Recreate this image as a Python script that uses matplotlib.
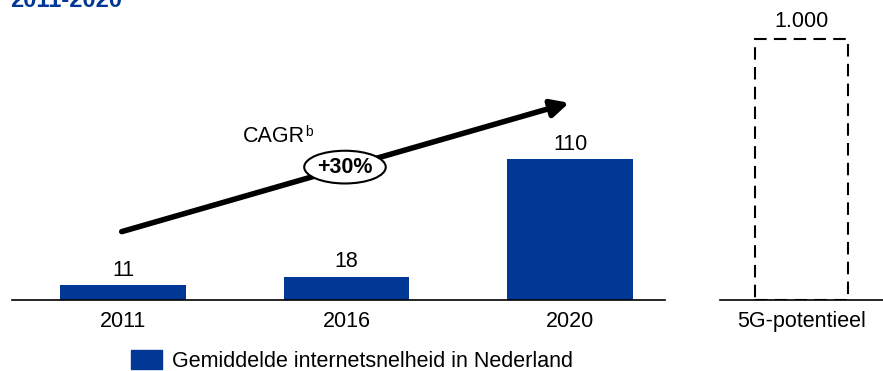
import matplotlib.pyplot as plt
from matplotlib.patches import Patch

plt.rcParams['font.family'] = ['Liberation Sans', 'DejaVu Sans']

jaren = ['2011', '2016', '2020']
snelheid = [11, 18, 110]
potentieel_label = ['5G-potentieel']
potentieel = [1000]
potentieel_tekst = ['1.000']
cagr = '+30%'

blauw = '#023895'
fs = 15.5

fig = plt.figure(figsize=(8.83, 3.71), dpi=100)
W, H = 883, 371
schaal = 1.273  # px per eenheid
hoogte = 280    # hoogte van de assen in px

# hoofdas, basislijn op y=299.5px
ax = fig.add_axes([12 / W, 71.5 / H, 653 / W, hoogte / H])
x = list(range(len(jaren)))
ax.bar(x, snelheid, width=0.56, color=blauw)
for xi, v in zip(x, snelheid):
    ax.annotate(str(v), (xi, v), xytext=(0, 3.5), textcoords='offset points',
                ha='center', va='bottom', fontsize=fs)
ax.set_xlim(-0.497, 2.425)
ax.set_ylim(0, hoogte / schaal)
ax.set_xticks(x)
ax.set_xticklabels(jaren, fontsize=fs)
ax.tick_params(axis='x', length=0, pad=8)
ax.set_yticks([])
for s in ['top', 'right', 'left']:
    ax.spines[s].set_visible(False)
ax.spines['bottom'].set_linewidth(1.2)

# CAGR pijl
ax.annotate('', xy=(1.996, 154.5), xytext=(-0.006, 53.3),
            arrowprops=dict(arrowstyle='-|>', lw=4, color='black',
                            mutation_scale=26, shrinkA=0, shrinkB=0))
ax.text(0.993, 104, cagr, ha='center', va='center', fontsize=fs,
        fontweight='bold',
        bbox=dict(boxstyle='ellipse,pad=0.05', fc='white', ec='black', lw=1.5))
ax.text(0.537, 123.7, 'CAGR', ha='left', va='baseline', fontsize=fs)
ax.text(0.815, 128.4, 'b', ha='left', va='baseline', fontsize=10)

# 5G potentieel
ax2 = fig.add_axes([720 / W, 71.5 / H, 163 / W, hoogte / H])
ax2.bar([0], potentieel, width=0.57, fill=False, edgecolor='black',
        linestyle=(0, (6, 3.5)), lw=1.5)
ax2.annotate(potentieel_tekst[0], (0, potentieel[0]), xytext=(0, 5),
             textcoords='offset points', ha='center', va='bottom', fontsize=fs)
ax2.set_xlim(-0.5, 0.5)
ax2.set_ylim(0, 1000 * hoogte / 260.5)
ax2.set_xticks([0])
ax2.set_xticklabels(potentieel_label, fontsize=fs)
ax2.tick_params(axis='x', length=0, pad=8)
ax2.set_yticks([])
for s in ['top', 'right', 'left']:
    ax2.spines[s].set_visible(False)
ax2.spines['bottom'].set_linewidth(1.2)

# titel, bovenaan afgesneden
fig.text(10 / W, (H - 7) / H, '2011-2020', color=blauw, fontsize=17,
         fontweight='bold', ha='left', va='baseline')

fig.legend(handles=[Patch(color=blauw, label='Gemiddelde internetsnelheid in Nederland')],
           loc='upper left', bbox_to_anchor=(131 / W, (H - 350) / H), frameon=False,
           fontsize=fs, handlelength=1.44, handleheight=1.0, handletextpad=0.47,
           borderpad=0, borderaxespad=0)

fig.savefig('out.png', dpi=100)
